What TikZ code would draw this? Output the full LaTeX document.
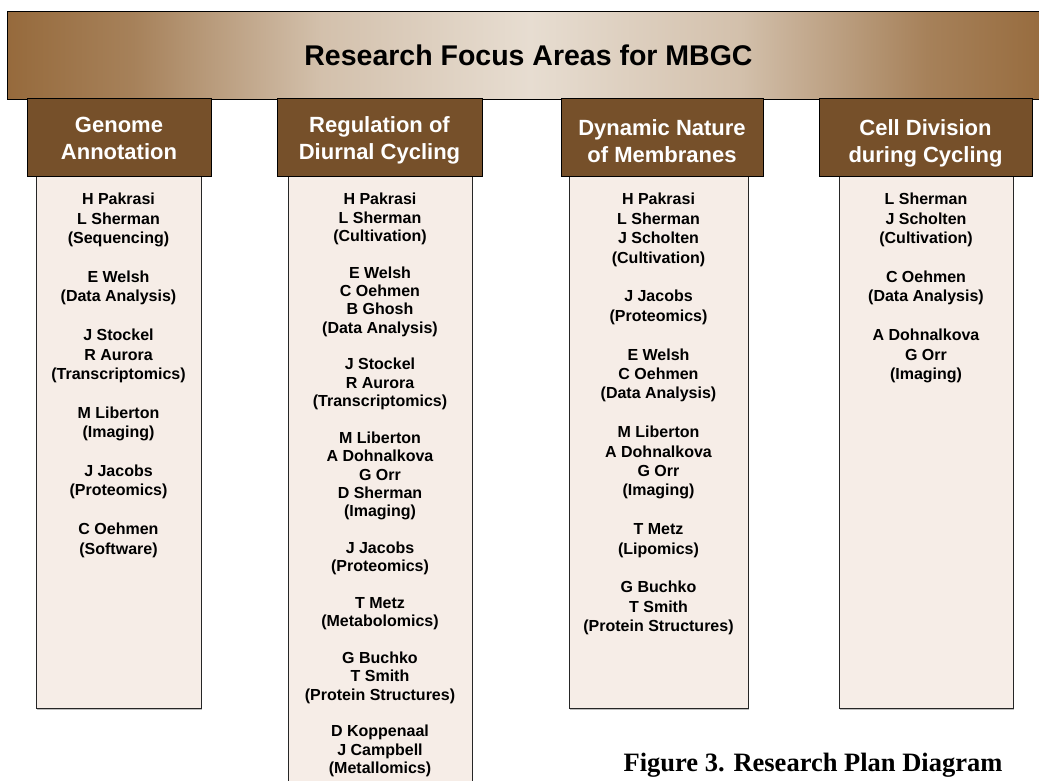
\documentclass[tikz,border=0pt]{standalone}
\usepackage{fontspec}
\setmainfont{Liberation Sans}
\newfontfamily\captionserif{Liberation Serif}
\usetikzlibrary{shadows}

\definecolor{bannerbrown}{HTML}{966A3C}
\definecolor{bannerlight}{HTML}{E7DDD1}
\definecolor{headbrown}{HTML}{76502A}
\definecolor{boxfill}{HTML}{F6EDE7}

% light in the middle, brown at both ends
\pgfdeclarehorizontalshading{bannershade}{100bp}{%
	color(0bp)=(bannerbrown); color(25bp)=(bannerbrown);
	color(31bp)=(bannerbrown!80!bannerlight); color(40bp)=(bannerbrown!25!bannerlight);
	color(50bp)=(bannerlight); color(60bp)=(bannerbrown!25!bannerlight);
	color(69bp)=(bannerbrown!80!bannerlight); color(75bp)=(bannerbrown);
	color(100bp)=(bannerbrown)}

\newcommand*{\figw}{1039}
\newcommand*{\figh}{780}
\newcommand*{\headmid}{137}
\newcommand*{\boxtop}{176}

\begin{document}
\begin{tikzpicture}
[
	x=1pt, y=-1pt,
	banner/.style={draw=black, line width=1pt, shading=bannershade, inner sep=0pt},
	areahead/.style={draw=black, line width=1pt, fill=headbrown, inner sep=0pt, minimum height=78pt,
		drop shadow={shadow xshift=1.2pt, shadow yshift=-1.2pt, opacity=.6}},
	headtext/.style={text=white, align=center, inner sep=0pt,
		font=\bfseries\fontsize{22}{27}\selectfont},
	areabox/.style={draw=black!85, line width=1pt, fill=boxfill, anchor=north, inner sep=0pt,
		drop shadow={shadow xshift=1.2pt, shadow yshift=-1.2pt, opacity=.5}},
	people/.style={anchor=north, align=center, inner sep=0pt,
		font=\bfseries\fontsize{16}{19.4}\selectfont}
]

	\clip (0,0) rectangle (\figw,\figh);

	% top banner, runs past the right edge
	\node[banner, minimum width=1045pt, minimum height=88pt, anchor=north west] (mbgc) at (7,11) {};
	\node at (528.5,55) [font=\bfseries\fontsize{28.5}{34}\selectfont] (mbgctitle) {Research Focus Areas for MBGC};

	% column boxes
	\node[areabox, minimum width=165pt, minimum height=532pt] (genbox) at (118.5,\boxtop) {};
	\node[areabox, minimum width=184pt, minimum height=640pt] (regbox) at (380,\boxtop) {};
	\node[areabox, minimum width=179pt, minimum height=532pt] (dynbox) at (658.5,\boxtop) {};
	\node[areabox, minimum width=174pt, minimum height=532pt] (cellbox) at (926,\boxtop) {};

	% column headers
	\foreach \nm/\cx/\headw/\dy/\txt in {gen/119/184/-1/{Genome\\Annotation},
			reg/379.5/205/-3/{Regulation of\\Diurnal Cycling},
			dyn/662/202/-4/{Dynamic Nature\\of Membranes},
			cell/925.5/213/-6/{Cell Division\\during Cycling}} {
		\node[areahead, minimum width=\headw pt] (\nm head) at (\cx,\headmid) {};
		\node[headtext] (\nm title) at ([yshift=\dy pt]\nm head.center) {\txt};
	}

	% who works on what
	\node[people] (genlist) at ([yshift=-17pt]genbox.north) {%
		H Pakrasi\\L Sherman\\(Sequencing)\\[\baselineskip]
		E Welsh\\(Data Analysis)\\[\baselineskip]
		J Stockel\\R Aurora\\(Transcriptomics)\\[\baselineskip]
		M Liberton\\(Imaging)\\[\baselineskip]
		J Jacobs\\(Proteomics)\\[\baselineskip]
		C Oehmen\\(Software)};

	\node[people, font=\bfseries\fontsize{16}{18.35}\selectfont] (reglist) at ([yshift=-17pt]regbox.north) {%
		H Pakrasi\\L Sherman\\(Cultivation)\\[\baselineskip]
		E Welsh\\C Oehmen\\B Ghosh\\(Data Analysis)\\[\baselineskip]
		J Stockel\\R Aurora\\(Transcriptomics)\\[\baselineskip]
		M Liberton\\A Dohnalkova\\G Orr\\D Sherman\\(Imaging)\\[\baselineskip]
		J Jacobs\\(Proteomics)\\[\baselineskip]
		T Metz\\(Metabolomics)\\[\baselineskip]
		G Buchko\\T Smith\\(Protein Structures)\\[\baselineskip]
		D Koppenaal\\J Campbell\\(Metallomics)};

	\node[people] (dynlist) at ([yshift=-17pt]dynbox.north) {%
		H Pakrasi\\L Sherman\\J Scholten\\(Cultivation)\\[\baselineskip]
		J Jacobs\\(Proteomics)\\[\baselineskip]
		E Welsh\\C Oehmen\\(Data Analysis)\\[\baselineskip]
		M Liberton\\A Dohnalkova\\G Orr\\(Imaging)\\[\baselineskip]
		T Metz\\(Lipomics)\\[\baselineskip]
		G Buchko\\T Smith\\(Protein Structures)};

	\node[people] (celllist) at ([yshift=-17pt]cellbox.north) {%
		L Sherman\\J Scholten\\(Cultivation)\\[\baselineskip]
		C Oehmen\\(Data Analysis)\\[\baselineskip]
		A Dohnalkova\\G Orr\\(Imaging)};

	% caption
	\node[anchor=base, font=\captionserif\bfseries\fontsize{26.5}{30}\selectfont] (figcap) at (813,771)
		{Figure 3. Research Plan Diagram};

\end{tikzpicture}
\end{document}
